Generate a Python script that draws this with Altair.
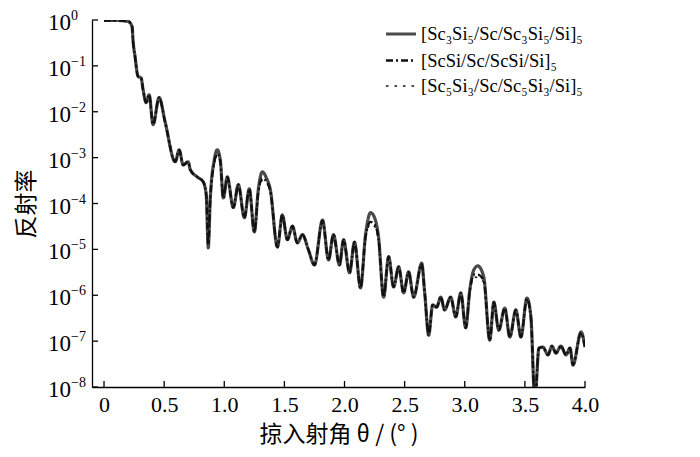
import altair as alt
import pandas as pd

# incidence angle (deg)
theta = [0.0, 0.10, 0.20, 0.233, 0.242, 0.258, 0.283, 0.308, 0.325, 0.35, 0.375, 0.408, 0.458, 0.508,
         0.592, 0.625, 0.658, 0.70, 0.717, 0.775, 0.825, 0.85, 0.867, 0.883, 0.917, 0.942, 0.967,
         0.992, 1.025, 1.075, 1.117, 1.167, 1.208, 1.25, 1.283, 1.317, 1.35, 1.383, 1.442, 1.483,
         1.525, 1.567, 1.608, 1.65, 1.70, 1.75, 1.817, 1.867, 1.908, 1.958, 1.992, 2.042, 2.083,
         2.133, 2.175, 2.217, 2.25, 2.283, 2.325, 2.367, 2.408, 2.45, 2.492, 2.533, 2.575, 2.642,
         2.667, 2.70, 2.733, 2.767, 2.80, 2.833, 2.883, 2.925, 2.967, 3.008, 3.042, 3.075, 3.108,
         3.158, 3.208, 3.242, 3.283, 3.333, 3.375, 3.425, 3.467, 3.517, 3.55, 3.583, 3.617, 3.65,
         3.692, 3.725, 3.758, 3.80, 3.842, 3.875, 3.90, 3.967, 4.0]

# log10 of reflectivity
log_r_sc3si5 = [-0.01, -0.01, -0.03, -0.14, -0.47, -0.80, -1.23, -1.26, -1.52, -1.80, -1.63, -2.28, -1.69, -2.22,
                -3.09, -2.83, -3.16, -3.09, -3.26, -3.42, -3.53, -3.81, -4.97, -3.92, -3.05, -2.83, -3.05,
                -3.88, -3.42, -4.09, -3.59, -4.31, -3.68, -4.62, -3.70, -3.31, -3.44, -3.70, -4.95, -4.25,
                -4.79, -4.49, -4.86, -4.68, -5.01, -5.34, -4.36, -5.23, -4.68, -5.34, -4.79, -5.51, -4.84,
                -5.84, -4.68, -4.20, -4.31, -4.73, -6.04, -5.16, -5.82, -5.38, -5.95, -5.49, -6.04, -5.30,
                -5.95, -6.87, -6.21, -6.26, -6.04, -6.32, -6.04, -6.47, -5.95, -6.71, -5.88, -5.45, -5.36,
                -5.60, -6.98, -6.15, -6.76, -6.28, -6.91, -6.32, -6.91, -6.06, -6.47, -8.30, -7.15, -7.13,
                -7.30, -7.11, -7.26, -7.11, -7.30, -7.15, -7.52, -6.80, -7.13]

log_r_scsi = [-0.01, -0.01, -0.03, -0.14, -0.47, -0.80, -1.23, -1.26, -1.52, -1.80, -1.63, -2.28, -1.69, -2.22,
              -3.09, -2.83, -3.16, -3.09, -3.26, -3.42, -3.53, -3.81, -4.90, -3.95, -3.10, -2.92, -3.08,
              -3.88, -3.42, -4.09, -3.59, -4.31, -3.68, -4.62, -3.75, -3.45, -3.52, -3.72, -4.95, -4.25,
              -4.79, -4.49, -4.86, -4.68, -5.01, -5.34, -4.38, -5.23, -4.68, -5.34, -4.79, -5.51, -4.84,
              -5.84, -4.72, -4.40, -4.45, -4.78, -6.04, -5.16, -5.82, -5.38, -5.95, -5.49, -6.04, -5.32,
              -5.95, -6.87, -6.21, -6.26, -6.04, -6.32, -6.04, -6.47, -5.95, -6.71, -5.90, -5.55, -5.55,
              -5.68, -6.98, -6.15, -6.76, -6.28, -6.91, -6.32, -6.91, -6.08, -6.47, -8.30, -7.15, -7.13,
              -7.30, -7.11, -7.26, -7.11, -7.30, -7.15, -7.52, -6.82, -7.13]

log_r_sc5si3 = [-0.01, -0.01, -0.03, -0.14, -0.47, -0.80, -1.23, -1.26, -1.52, -1.80, -1.63, -2.28, -1.69, -2.22,
                -3.09, -2.83, -3.16, -3.09, -3.26, -3.42, -3.53, -3.81, -4.85, -3.95, -3.12, -2.95, -3.10,
                -3.88, -3.42, -4.09, -3.59, -4.31, -3.68, -4.62, -3.78, -3.50, -3.55, -3.74, -4.95, -4.25,
                -4.79, -4.49, -4.86, -4.68, -5.01, -5.34, -4.40, -5.23, -4.68, -5.34, -4.79, -5.51, -4.84,
                -5.84, -4.75, -4.45, -4.50, -4.80, -6.04, -5.16, -5.82, -5.38, -5.95, -5.49, -6.04, -5.33,
                -5.95, -6.87, -6.21, -6.26, -6.04, -6.32, -6.04, -6.47, -5.95, -6.71, -5.92, -5.60, -5.62,
                -5.72, -6.98, -6.15, -6.76, -6.28, -6.91, -6.32, -6.91, -6.10, -6.47, -8.30, -7.15, -7.13,
                -7.30, -7.11, -7.26, -7.11, -7.30, -7.15, -7.52, -6.84, -7.13]

series_names = ["[Sc₃Si₅/Sc/Sc₃Si₅/Si]₅", "[ScSi/Sc/ScSi/Si]₅", "[Sc₅Si₃/Sc/Sc₅Si₃/Si]₅"]
series_colors = ["#4a4a4a", "#111111", "#111111"]
series_dash = [[1, 0], [7, 3, 2, 3], [2.5, 6]]
series_width = [3.2, 1.6, 2.3]

x_ticks = [0, 0.5, 1.0, 1.5, 2.0, 2.5, 3.0, 3.5, 4.0]
y_ticks = [1, 1e-1, 1e-2, 1e-3, 1e-4, 1e-5, 1e-6, 1e-7, 1e-8]
y_tick_base = ["10"] * 9
y_tick_exp = ["0", "−1", "−2", "−3", "−4", "−5", "−6", "−7", "−8"]

rows = []
for name, vals in zip(series_names, [log_r_sc3si5, log_r_scsi, log_r_sc5si3]):
    for t, v in zip(theta, vals):
        rows.append({"theta": t, "R": 10 ** v, "series": name})
df = pd.DataFrame(rows)

W, H = 493, 367
SERIF = "Liberation Serif"
CJK = "Noto Sans CJK SC"

xscale = alt.Scale(domain=[-0.1, 4.0], nice=False, zero=False)
yscale = alt.Scale(type="log", domain=[1e-8, 1], nice=False)

x_axis = alt.Axis(values=x_ticks, labelExpr="datum.value == 0 ? '0' : format(datum.value, '.1f')",
                  title="掠入射角 θ / (° )", labelPadding=7, titlePadding=8, labelFlush=False)
y_axis = alt.Axis(values=y_ticks, labels=False, title="反射率", titlePadding=54)

lines = alt.Chart(df).mark_line(clip=True, interpolate="monotone").encode(
    x=alt.X("theta:Q", scale=xscale, axis=x_axis),
    y=alt.Y("R:Q", scale=yscale, axis=y_axis),
    color=alt.Color("series:N", scale=alt.Scale(domain=series_names, range=series_colors), legend=alt.Legend(title=None)),
    strokeDash=alt.StrokeDash("series:N", scale=alt.Scale(domain=series_names, range=series_dash), legend=alt.Legend(title=None)),
    strokeWidth=alt.StrokeWidth("series:N", scale=alt.Scale(domain=series_names, range=series_width), legend=alt.Legend(title=None)),
)

ytick_df = pd.DataFrame({"R": y_ticks, "base": y_tick_base, "exp": y_tick_exp})
yticks = alt.Chart(ytick_df).mark_rule(color="black", strokeWidth=1.3).encode(
    y=alt.Y("R:Q", scale=yscale, axis=y_axis),
    x=alt.value(0), x2=alt.value(6),
)
ybase = alt.Chart(ytick_df).mark_text(align="right", baseline="middle", font=SERIF, fontSize=23,
                                      color="black", dy=3).encode(
    y=alt.Y("R:Q", scale=yscale, axis=y_axis),
    x=alt.value(-21), text="base:N",
)
yexp = alt.Chart(ytick_df).mark_text(align="left", baseline="middle", font=SERIF, fontSize=14,
                                     color="black", dy=-4).encode(
    y=alt.Y("R:Q", scale=yscale, axis=y_axis),
    x=alt.value(-21), text="exp:N",
)

xtick_df = pd.DataFrame({"theta": x_ticks})
xticks = alt.Chart(xtick_df).mark_rule(color="black", strokeWidth=1.3).encode(
    x=alt.X("theta:Q", scale=xscale, axis=x_axis),
    y=alt.value(H), y2=alt.value(H - 6),
)

chart = alt.layer(lines, yticks, xticks, ybase, yexp).properties(
    width=W, height=H,
    autosize="none",
    padding={"left": 84, "top": 12, "right": 100, "bottom": 70},
).configure_view(stroke=None).configure_axis(
    grid=False, ticks=False, domainColor="black", domainWidth=1.3,
    labelFont=SERIF, labelFontSize=22, labelColor="black",
    titleFont=CJK, titleFontSize=23, titleFontWeight="normal", titleColor="black",
).configure_legend(
    orient="none", legendX=292, legendY=-3, padding=0,
    symbolType="stroke", symbolSize=900, labelFont=SERIF, labelFontSize=18.5,
    labelColor="black", labelOffset=3, rowPadding=-3, labelLimit=400,
)

chart.save("out.html", embed_options={"renderer": "svg", "actions": False})
